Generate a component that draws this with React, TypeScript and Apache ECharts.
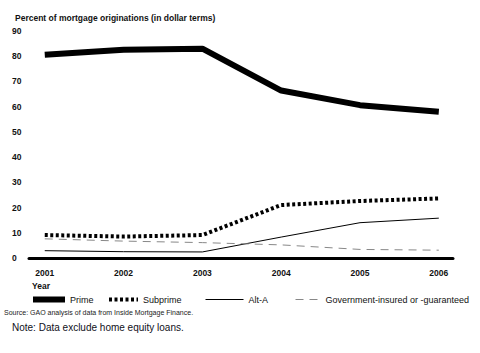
import React, { useEffect, useRef } from "react";
import * as echarts from "echarts";

const years = [2001, 2002, 2003, 2004, 2005, 2006];
const prime = [80.6, 82.6, 83.0, 66.4, 60.6, 58.0];
const subprime = [9.1, 8.5, 9.1, 21.0, 22.6, 23.6];
const altA = [2.9, 2.5, 2.4, 8.3, 14.0, 15.8];
const government = [7.6, 6.7, 6.1, 5.2, 3.4, 3.1];

const seriesNames = ["Prime", "Subprime", "Alt-A", "Government-insured or -guaranteed"];
const yTicks = [0, 10, 20, 30, 40, 50, 60, 70, 80, 90];

const FONT = "'Liberation Sans', Arial, sans-serif";

export default function App() {
  const ref = useRef<HTMLDivElement>(null);
  useEffect(() => {
    if (!ref.current) return;
    const chart = echarts.init(ref.current, null, { renderer: "svg" });
    const pair = (arr: number[]) => years.map((y, i) => [y, arr[i]]);
    const legendBase = {
      orient: "horizontal",
      top: 295,
      itemHeight: 8,
      padding: 0,
      selectedMode: false,
      itemStyle: { opacity: 0 },
      textStyle: { fontFamily: FONT, fontSize: 9, color: "#111" },
    };
    chart.setOption({
      animation: false,
      backgroundColor: "#fff",
      textStyle: { fontFamily: FONT },
      title: {
        text: "Percent of mortgage originations (in dollar terms)",
        left: 10,
        top: 8,
        textStyle: { fontFamily: FONT, fontSize: 8.5, fontWeight: "bold", color: "#111" },
      },
      grid: { left: 29, right: 27, top: 31, bottom: 95, containLabel: false },
      xAxis: {
        type: "value",
        min: 2000.8,
        max: 2006.18,
        splitNumber: 5,
        axisLine: { show: true, lineStyle: { color: "#000", width: 3 } },
        axisTick: { show: false },
        splitLine: { show: false },
        axisLabel: {
          showMinLabel: false,
          showMaxLabel: false,
          margin: 10,
          fontFamily: FONT,
          fontSize: 8.5,
          fontWeight: "bold",
          color: "#111",
          formatter: (v: number) => (Number.isInteger(v) ? String(v) : ""),
        },
      },
      yAxis: {
        type: "value",
        min: yTicks[0],
        max: yTicks[yTicks.length - 1],
        interval: 10,
        axisLine: { show: false },
        axisTick: { show: false },
        splitLine: { show: false },
        axisLabel: {
          align: "left",
          margin: 17,
          fontFamily: FONT,
          fontSize: 8.5,
          fontWeight: "bold",
          color: "#111",
        },
      },
      legend: [
        { ...legendBase, left: 30, itemWidth: 32, lineStyle: { width: 6 }, data: [seriesNames[0]] },
        { ...legendBase, left: 107, itemWidth: 29, lineStyle: { width: 4 }, data: [seriesNames[1]] },
        { ...legendBase, left: 205, itemWidth: 38, lineStyle: { width: 1 }, data: [seriesNames[2]] },
        { ...legendBase, left: 295, itemWidth: 25, lineStyle: { width: 1 }, data: [seriesNames[3]] },
      ],
      graphic: [
        {
          type: "text",
          left: 32,
          top: 281,
          style: { text: "Year", font: `bold 8.5px ${FONT}`, fill: "#111" },
        },
        {
          type: "text",
          left: 4,
          top: 309,
          style: {
            text: "Source: GAO analysis of data from Inside Mortgage Finance.",
            font: `7px ${FONT}`,
            fill: "#222",
          },
        },
        {
          type: "text",
          left: 12,
          top: 322,
          style: {
            text: "Note: Data exclude home equity loans.",
            font: `10px ${FONT}`,
            fill: "#101020",
          },
        },
      ],
      series: [
        {
          name: seriesNames[0],
          type: "line",
          data: pair(prime),
          symbol: "none",
          lineStyle: { color: "#000", width: 6 },
          itemStyle: { color: "#000" },
        },
        {
          name: seriesNames[1],
          type: "line",
          data: pair(subprime),
          symbol: "none",
          lineStyle: { color: "#000", width: 4, type: [3, 2.5] },
          itemStyle: { color: "#000" },
        },
        {
          name: seriesNames[2],
          type: "line",
          data: pair(altA),
          symbol: "none",
          lineStyle: { color: "#000", width: 1 },
          itemStyle: { color: "#000" },
        },
        {
          name: seriesNames[3],
          type: "line",
          data: pair(government),
          symbol: "none",
          lineStyle: { color: "#888", width: 1, type: [8, 6] },
          itemStyle: { color: "#888" },
        },
      ],
    });
    return () => chart.dispose();
  }, []);
  return (
    <div
      ref={ref}
      style={{ position: "absolute", left: 0, top: 0, width: 480, height: 353 }}
    />
  );
}
